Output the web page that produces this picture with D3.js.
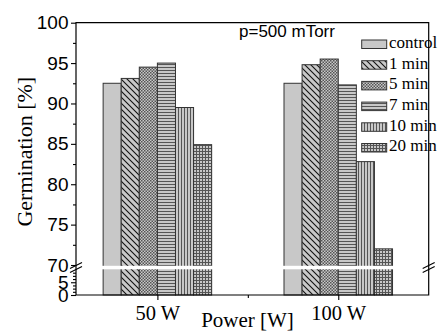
<!DOCTYPE html>
<html><head><meta charset="utf-8">
<script src="https://cdn.jsdelivr.net/npm/d3@7"></script>
<style>
html,body{margin:0;padding:0;background:#fff;}
svg{display:block;}
.serif{font-family:"Liberation Serif","Times New Roman",Times,serif;}
.sans{font-family:"Liberation Sans",Arial,Helvetica,sans-serif;}
</style></head>
<body>
<svg id="chart" width="438" height="331"></svg>
<script>
const groups = ["50 W", "100 W"];
const groupPos = [1, 2];
const series = ["control", "1 min", "5 min", "7 min", "10 min", "20 min"];
const values50 = [92.5, 93.1, 94.5, 95.0, 89.5, 84.9];
const values100 = [92.5, 94.8, 95.5, 92.3, 82.8, 72.0];
const yTicksTop = [70, 75, 80, 85, 90, 95, 100];
const yTicksBottom = [0, 5];
const annotation = "p=500 mTorr";

const svg = d3.select("#chart");
const L = 76, R = 428.7, T = 22.7, B = 295;
const x = d3.scaleLinear().domain([0.55, 2.5]).range([L, R]);
const yTop = d3.scaleLinear().domain([70, 100]).range([265, T]);
const yBot = d3.scaleLinear().domain([0, 10]).range([B, 269.5]);
const barW = 0.1;
const base = "#c8c8c8", ink = "#333";

// patterns
const defs = svg.append("defs");
function pat(id, w, h, build) {
  const p = defs.append("pattern").attr("id", id).attr("patternUnits", "userSpaceOnUse")
    .attr("width", w).attr("height", h);
  p.append("rect").attr("width", w).attr("height", h).attr("fill", base);
  build(p);
}
pat("p0", 4, 4, p => {});
pat("p1", 6, 6, p => {
  p.append("path").attr("d", "M-1,-1 L7,7 M-4,2 L2,8 M4,-2 L10,4").attr("stroke", "#111").attr("stroke-width", 1.1);
});
pat("p2", 3, 3, p => {
  p.append("rect").attr("x", 0).attr("y", 0).attr("width", 1.5).attr("height", 1.5).attr("fill", "#555");
  p.append("rect").attr("x", 1.5).attr("y", 1.5).attr("width", 1.5).attr("height", 1.5).attr("fill", "#555");
});
pat("p3", 3, 3, p => {
  p.append("rect").attr("x", 0).attr("y", 1).attr("width", 3).attr("height", 1).attr("fill", "#555");
});
pat("p4", 3, 3, p => {
  p.append("rect").attr("x", 1).attr("y", 0).attr("width", 1).attr("height", 3).attr("fill", "#555");
});
pat("p5", 3, 3, p => {
  p.append("rect").attr("x", 1).attr("y", 0).attr("width", 1).attr("height", 3).attr("fill", "#555");
  p.append("rect").attr("x", 0).attr("y", 1).attr("width", 3).attr("height", 1).attr("fill", "#555");
});

// bars
const data = [];
[values50, values100].forEach((vals, gi) => {
  vals.forEach((v, si) => data.push({g: groupPos[gi], s: si, v}));
});
svg.append("g").selectAll("rect").data(data).join("rect")
  .attr("x", d => x(d.g + (d.s - 3) * barW))
  .attr("width", d => x(d.g + (d.s - 2) * barW) - x(d.g + (d.s - 3) * barW))
  .attr("y", d => yTop(d.v))
  .attr("height", d => B - yTop(d.v))
  .attr("fill", d => `url(#p${d.s})`)
  .attr("stroke", ink).attr("stroke-width", 1);

// break gap
svg.append("rect").attr("x", L + 1).attr("y", 265.8).attr("width", R - L - 2).attr("height", 3.5).attr("fill", "#fff");

// legend
const leg = svg.append("g");
series.forEach((s, i) => {
  const yy = 40 + i * 20.7;
  leg.append("rect").attr("x", 361.7).attr("y", yy).attr("width", 25).attr("height", 8.5)
    .attr("fill", `url(#p${i})`).attr("stroke", ink).attr("stroke-width", 1);
  leg.append("text").attr("class", "serif").attr("x", 389).attr("y", yy + 7.8).text(s)
    .attr("font-size", 17).attr("fill", "#000");
});

svg.append("text").attr("class", "sans").attr("x", 239).attr("y", 36.7).text(annotation)
  .attr("font-size", 17).attr("fill", "#000");

// axes
const yAxTop = d3.axisLeft(yTop).tickValues(d3.range(70, 100.01, 2.5))
  .tickFormat(d => yTicksTop.includes(d) ? d : "")
  .tickSize(5).tickPadding(2.5);
const gT = svg.append("g").attr("transform", `translate(${L},0)`).call(yAxTop);
gT.selectAll(".tick line").attr("x2", d => yTicksTop.includes(d) ? -5 : -3);
const yAxBot = d3.axisLeft(yBot).tickValues(d3.range(0, 10, 1.25))
  .tickFormat(d => yTicksBottom.includes(d) ? d : "")
  .tickSize(5).tickPadding(2.5);
const gB = svg.append("g").attr("transform", `translate(${L},0)`).call(yAxBot);
gB.selectAll(".tick line").attr("x2", d => yTicksBottom.includes(d) ? -5 : -3);
[gT, gB].forEach(g => {
  g.select(".domain").remove();
  g.attr("font-family", null).attr("font-size", null);
  g.selectAll("text").attr("class", "sans").attr("font-size", 19).attr("fill", "#000");
  g.selectAll("line").attr("stroke", "#000").attr("stroke-width", 1.1);
});

const xAx = d3.axisBottom(x).tickValues([1, 1.5, 2])
  .tickFormat(d => { const i = groupPos.indexOf(d); return i >= 0 ? groups[i] : ""; })
  .tickSize(5).tickPadding(5);
const gX = svg.append("g").attr("transform", `translate(0,${B})`).call(xAx);
gX.select(".domain").remove();
gX.attr("font-family", null).attr("font-size", null);
gX.selectAll(".tick line").attr("y2", d => groupPos.includes(d) ? 5 : 3).attr("stroke", "#000").attr("stroke-width", 1.1);
gX.selectAll("text").attr("class", "serif").attr("font-size", 20.5).attr("fill", "#000");

// frame
svg.append("path").attr("d", `M${L},${T} H${R} V${B} H${L} Z`)
  .attr("fill", "none").attr("stroke", "#000").attr("stroke-width", 1.2);

// break marks
[L, R].forEach(cx => {
  [265.5, 269.5].forEach(cy => {
    svg.append("line").attr("x1", cx - 6).attr("y1", cy + 3).attr("x2", cx + 6).attr("y2", cy - 3)
      .attr("stroke", "#000").attr("stroke-width", 1.1);
  });
});

// titles
svg.append("text").attr("class", "serif").attr("x", 247.5).attr("y", 327).attr("text-anchor", "middle")
  .text("Power [W]").attr("font-size", 21).attr("fill", "#000");
svg.append("text").attr("class", "serif").attr("transform", "translate(32,151.7) rotate(-90)").attr("text-anchor", "middle")
  .text("Germination [%]").attr("font-size", 22).attr("fill", "#000");
</script>
</body></html>
